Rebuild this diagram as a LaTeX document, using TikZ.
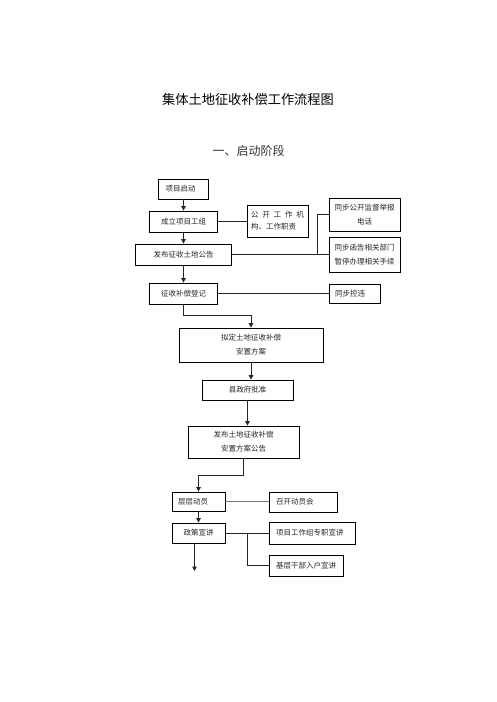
\documentclass[tikz,border=0pt]{standalone}
\usepackage{fontspec}
\setmainfont{Noto Sans CJK SC}
\usetikzlibrary{arrows.meta,calc}
\begin{document}
\begin{tikzpicture}[x=1pt,y=-1pt,
  box/.style={draw=black, line width=0.8pt, rectangle, inner xsep=0pt, inner ysep=0pt,
    font=\fontsize{7.5}{14}\selectfont, text=black!85, align=center},
  lbox/.style={box, align=left, inner xsep=7pt, text width=#1},
  conn/.style={draw=black!85, line width=1pt},
  gconn/.style={draw=black!55, line width=1.5pt},
  arr/.style={conn, -{Triangle[length=4.5pt,width=4.5pt]}}]
\useasboundingbox (0,0) rectangle (496,702);

\node[font=\fontsize{13.2}{16}\selectfont] (title) at (248,99) {集体土地征收补偿工作流程图};
\node[font=\fontsize{12}{14}\selectfont, text=black!80] (stage) at (248.5,151) {一、启动阶段};

\node[lbox=36pt, minimum height=20pt] (start) at (183.5,189) {项目启动};
\node[box, minimum width=68pt, minimum height=21pt] (team) at (183.5,221.5) {成立项目工组};
\node[box, align=left, inner xsep=4pt, text width=53pt, minimum height=32pt,
  font=\fontsize{7.5}{12}\selectfont] (pub) at (277.5,221)
  {\makebox[53pt][s]{公\hfil 开\hfil 工\hfil 作\hfil 机}\\构、工作职责};
\node[box, minimum width=71pt, minimum height=33pt] (tel) at (364.5,214.5) {同步公开监督举报\\电话};
\node[box, minimum width=96pt, minimum height=21pt] (ann) at (183.5,254.5) {发布征收土地公告};
\node[box, minimum width=71pt, minimum height=35pt] (notify) at (364.5,254.5) {同步函告相关部门\\暂停办理相关手续};
\node[box, minimum width=68pt, minimum height=21pt] (reg) at (183.5,293.5) {征收补偿登记};
\node[lbox=39pt, inner xsep=6pt, minimum height=19pt] (ctrl) at (354.5,293.5) {同步控违};
\node[box, minimum width=144pt, minimum height=34pt] (plan) at (251,345) {拟定土地征收补偿\\安置方案};
\node[box, minimum width=91pt, minimum height=20pt] (appr) at (247.5,390) {县政府批准};
\node[box, minimum width=111pt, minimum height=32pt] (pubplan) at (243.5,442) {发布土地征收补偿\\安置方案公告};
\node[lbox=41pt, inner xsep=6pt, minimum height=19pt] (mob) at (198.5,501.5) {层层动员};
\node[lbox=54pt, minimum height=20pt] (meet) at (303,502) {召开动员会};
\node[box, minimum width=53pt, minimum height=20pt] (talk) at (198.5,533) {政策宣讲};
\node[lbox=72pt, minimum height=22pt] (team2) at (312,533) {项目工作组专职宣讲};
\node[lbox=60pt, minimum height=21pt] (base) at (306,565.5) {基层干部入户宣讲};

\coordinate (j1) at (317,254.5);
\coordinate (k1) at (251,315);
\coordinate (k2) at (198.5,475);
\coordinate (j2) at (247,533);
\coordinate (k3) at (194.5,571);

\draw[arr] (start.south) -- (team.north);
\draw[conn] (team.east) -- (team.east -| pub.west);
\draw[arr] (team.south) -- (ann.north);
\draw[conn] (ann.east) -- (notify.west);
\draw[conn] (j1) |- (tel.west);
\draw[arr] (ann.south) -- (reg.north);
\draw[conn] (reg.east) -- (ctrl.west);
\draw[arr] (reg.south) |- (k1) -- (plan.north);
\draw[arr] (plan.south) -- (plan.south |- appr.north);
\draw[arr] (appr.south) -- (appr.south |- pubplan.north);
\draw[arr] (pubplan.south) |- (k2) -- (mob.north);
\draw[gconn] (mob.east) -- (mob.east -| meet.west);
\draw[arr] (mob.south) -- (talk.north);
\draw[conn] (talk.east) -- (team2.west);
\draw[conn] (j2) |- (base.west);
\draw[arr] (talk.south -| k3) -- (k3);
\end{tikzpicture}
\end{document}
